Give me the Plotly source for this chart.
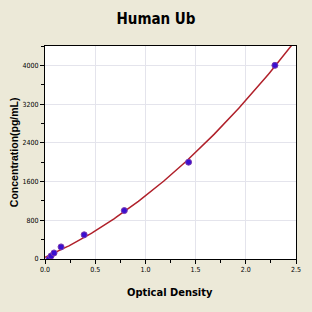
import numpy as np
import plotly.graph_objects as go

od = [0.04, 0.06, 0.09, 0.16, 0.39, 0.79, 1.43, 2.29]
conc = [0, 62.5, 125, 250, 500, 1000, 2000, 4000]
x_ticks = [0.0, 0.5, 1.0, 1.5, 2.0, 2.5]
x_tick_labels = ["0.0", "0.5", "1.0", "1.5", "2.0", "2.5"]
y_ticks = [0, 800, 1600, 2400, 3200, 4000]
y_tick_labels = ["0", "800", "1600", "2400", "3200", "4000"]

coef = np.polyfit(od, conc, 2)
xs = np.linspace(0.0, 2.5, 200)
ys = np.polyval(coef, xs)

narrow = "DejaVu Sans Condensed, Liberation Sans Narrow, sans-serif"

fig = go.Figure()
fig.add_trace(go.Scatter(x=xs, y=ys, mode="lines",
                         line=dict(color="#B0202A", width=1.5), hoverinfo="skip"))
fig.add_trace(go.Scatter(x=od, y=conc, mode="markers",
                         marker=dict(color="#3A10D0", size=6,
                                     line=dict(color="#7A3AB0", width=1))))

fig.update_layout(
    width=312, height=312,
    margin=dict(l=45, r=11, t=46, b=53),
    paper_bgcolor="#ECE9D8", plot_bgcolor="white",
    showlegend=False,
    title=dict(text="<b>Human Ub</b>", x=0.5, xanchor="center", y=0.94, yanchor="middle",
               font=dict(family=narrow, size=15, color="black")),
    annotations=[
        dict(text="<b>Optical Density</b>", x=0.497, y=-0.155, xref="paper", yref="paper",
             xanchor="center", yanchor="middle", showarrow=False,
             font=dict(family=narrow, size=11, color="black")),
        dict(text="<b>Concentration(pg/mL)</b>", x=-0.125, y=0.5, xref="paper", yref="paper",
             xanchor="center", yanchor="middle", showarrow=False, textangle=-90,
             font=dict(family="Liberation Sans, Arial, sans-serif", size=10.5, color="black")),
    ],
)
fig.update_xaxes(range=[0, 2.5], tickvals=x_ticks, ticktext=x_tick_labels,
                 ticks="outside", ticklen=4, tickcolor="black",
                 minor=dict(dtick=0.25, ticks="outside", ticklen=3, tickcolor="black", showgrid=False),
                 showline=True, linecolor="black", linewidth=1, mirror=True,
                 showgrid=True, gridcolor="#E4E4EC", zeroline=False,
                 tickfont=dict(family=narrow, size=7, color="black"))
fig.update_yaxes(range=[0, 4400], tickvals=y_ticks, ticktext=y_tick_labels,
                 ticks="outside", ticklen=4, tickcolor="black",
                 minor=dict(dtick=400, ticks="outside", ticklen=3, tickcolor="black", showgrid=False),
                 showline=True, linecolor="black", linewidth=1, mirror=True,
                 showgrid=True, gridcolor="#E4E4EC", zeroline=False,
                 tickfont=dict(family=narrow, size=7, color="black"))

fig.write_html("out.html")
